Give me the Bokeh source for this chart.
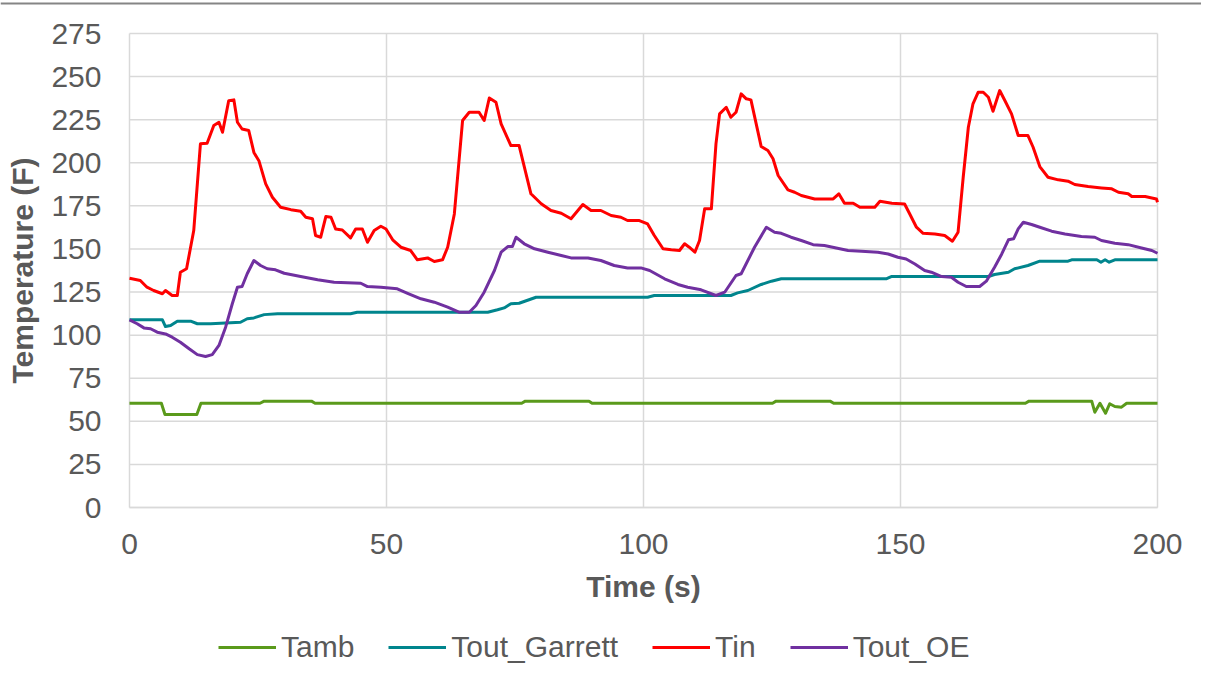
from bokeh.plotting import figure
from bokeh.models import FixedTicker, Legend, LegendItem, Range1d, Span
from bokeh.embed import file_html
from bokeh.resources import INLINE

# ---- data ----
x_ticks = [0, 50, 100, 150, 200]
y_ticks = [0, 25, 50, 75, 100, 125, 150, 175, 200, 225, 250, 275]

tamb_t = [0, 6.2, 6.9, 13.1, 13.9, 25.4, 26.2, 35.4, 36.1, 76.3, 77.0, 89.4, 90.0,
          125.1, 125.8, 136.3, 137.0, 174.3, 175.0, 187.2, 187.8, 188.8, 189.9,
          190.7, 191.7, 193.0, 194.0, 200]
tamb_v = [60.5, 60.5, 54, 54, 60.5, 60.5, 61.7, 61.7, 60.5, 60.5, 61.7, 61.7, 60.5,
          60.5, 61.7, 61.7, 60.5, 60.5, 61.7, 61.7, 55.3, 60.5, 54.7,
          60.2, 58.6, 58.2, 60.5, 60.5]

garrett_t = [0, 6.4, 7.0, 8.0, 9.3, 11.9, 13.2, 15.8, 21.6, 22.9, 24.2, 26.2, 28.8,
             43.0, 44.3, 69.7, 71.6, 72.9, 74.2, 75.8, 79.1, 100.8, 102.1, 117.0,
             118.3, 120.3, 122.9, 124.9, 126.8, 147.2, 148.2, 167.1, 168.3, 171.0,
             172.2, 174.8, 177.1, 182.6, 183.3, 188.2, 189.0, 189.8, 190.6, 191.7, 200]
garrett_v = [108.9, 108.9, 105, 105.6, 108.1, 108.1, 106.6, 106.6, 107.5, 109.5, 110, 111.9, 112.4,
             112.4, 113.3, 113.3, 114.7, 115.8, 118.2, 118.5, 122, 122, 123, 123,
             124.5, 125.9, 129.4, 131.3, 132.7, 132.7, 134, 134, 135.2, 136.5,
             138.5, 140.4, 142.9, 142.9, 143.7, 143.7, 142.3, 143.7, 142.3, 143.7, 143.7]

tin_t = [0, 2.1, 3.4, 4.7, 6.4, 7.0, 8.3, 9.3, 9.9, 11.1,
         12.5, 13.8, 15.1, 16.4, 17.4, 18.1, 19.3, 20.3, 21.0, 21.9,
         23.2, 24.2, 25.2, 26.5, 27.8, 29.4, 31.4, 33.3, 34.3, 35.6,
         36.2, 37.2, 38.2, 39.2, 40.1, 41.4, 43.0, 44.0, 45.3, 46.3,
         47.6, 48.9, 49.9, 51.2, 52.8, 54.7, 56.0, 58.0, 59.3, 60.9,
         61.9, 63.2, 64.8, 66.1, 68.0, 69.0, 70.0, 71.3, 72.3, 74.2,
         75.8, 78.1, 80.1, 82.0, 84.0, 85.9, 88.2, 89.8, 91.7, 93.7,
         95.6, 96.9, 99.2, 100.8, 102.1, 103.8, 105.4, 107.0, 108.0, 108.9,
         110.0, 110.9, 111.9, 113.2, 114.1, 114.8, 116.1, 117.0, 118.0, 119.0,
         120.0, 120.9, 122.9, 124.2, 125.2, 126.2, 128.1, 129.4, 130.7, 133.3,
         136.9, 138.0, 139.1, 140.8, 142.1, 145.0, 146.0, 148.3, 150.8, 151.8,
         153.1, 154.4, 156.7, 158.6, 160.1, 161.2, 162.2, 163.2, 164.1, 165.1,
         166.1, 167.1, 168.0, 169.3, 170.3, 171.6, 172.9, 174.8, 175.8, 177.1,
         178.7, 180.7, 182.6, 183.9, 186.5, 189.1, 191.1, 192.4, 194.3, 195.0,
         197.6, 198.9, 199.8, 200]
tin_v = [133, 131.7, 127.8, 125.9, 124, 125.9, 123, 123, 136.5, 138.5,
         160.7, 211, 211.3, 221.6, 223.5, 217.7, 236, 236.5, 223.5, 219.6,
         218.7, 206, 201, 187.8, 180, 174.2, 172.8, 171.9, 168.4, 167.5,
         157.8, 156.8, 168.8, 168.4, 161.6, 161, 156.4, 161.6, 161.6, 153.9,
         160.7, 163.2, 161.6, 155.3, 151, 149.1, 143.7, 144.8, 142.7, 143.7,
         151, 170.3, 224.5, 229.3, 229.3, 224.5, 237.6, 235.1, 222.6, 210,
         210, 182, 176.2, 172.3, 170.7, 167.5, 175.8, 172.3, 172.3, 169.4,
         168.4, 166.5, 166.5, 164.5, 157.8, 150.1, 149.5, 149.1, 153, 151,
         148.1, 154.9, 173.3, 173.3, 211, 228.4, 232.2, 226.4, 229.3, 240,
         237.1, 236.5, 209.4, 207.1, 202.3, 192.6, 184.3, 182.9, 181, 179,
         179, 182, 176.5, 176.5, 174.2, 174.2, 177.7, 176.5, 176.1, 170.3,
         162.6, 159.1, 158.7, 157.8, 154.5, 159.7, 191.6, 220.6, 234.2, 240.9,
         240.9, 238, 229.9, 241.9, 236.1, 228.4, 215.8, 215.8, 209, 197.8,
         191.6, 190.1, 189.3, 187.4, 186.2, 185.4, 184.9, 182.9, 182, 180.4,
         180.4, 179.6, 179, 177.1]

oe_t = [0, 1.5, 2.8, 4.1, 5.4, 7.0, 8.3, 9.9, 11.6, 13.2,
        14.8, 16.1, 17.4, 18.7, 20.0, 21.0, 21.9, 22.9, 24.2, 25.5,
        26.8, 28.4, 30.1, 33.3, 36.6, 39.8, 45.0, 46.3, 48.9, 52.1,
        54.1, 56.7, 59.3, 61.9, 64.1, 66.1, 67.4, 69.0, 71.0, 72.3,
        73.6, 74.5, 75.2, 76.8, 78.8, 81.4, 84.0, 85.9, 89.2, 91.7,
        94.3, 96.9, 99.5, 101.2, 104.1, 106.7, 108.6, 111.2, 114.1, 115.8,
        118.0, 119.0, 121.6, 123.9, 125.5, 126.8, 128.7, 130.7, 133.0, 135.2,
        137.5, 139.8, 142.4, 145.6, 147.6, 149.5, 151.1, 152.8, 154.7, 156.0,
        158.0, 159.9, 161.2, 162.8, 165.4, 166.7, 168.3, 169.7, 171.0, 172.0,
        172.9, 173.9, 175.5, 177.1, 179.4, 182.0, 185.2, 187.8, 189.1, 191.7,
        194.3, 196.9, 198.9, 200]
oe_v = [108.9, 106.6, 104.2, 103.7, 101.7, 100.7, 98.8, 95.9, 92.1, 88.7,
        87.6, 88.7, 94, 104.6, 118.2, 127.8, 128.2, 135.6, 143.3, 140.4,
        138.5, 137.9, 135.9, 134, 132.1, 130.7, 130.1, 128.2, 127.8, 126.9,
        124.3, 121.1, 119.1, 116.2, 113.3, 113.3, 117.2, 124.9, 137.5, 148.1,
        151.4, 151.4, 156.8, 153, 150.1, 148.1, 146.2, 144.8, 144.8, 143.3,
        140.4, 139, 139, 137.5, 132.7, 129.4, 127.8, 126.3, 123, 124.9,
        134.6, 135.6, 151, 162.6, 159.7, 159.1, 156.8, 154.9, 152.5, 152,
        150.6, 149.1, 148.7, 148.1, 147.1, 145.2, 144.2, 141.3, 137.5, 136.5,
        134, 133.6, 130.7, 128.2, 128.2, 131.3, 139.4, 147.1, 155.3, 155.9,
        161.6, 165.5, 164.2, 162.6, 160.3, 158.7, 157.2, 156.8, 154.9, 153.3,
        152.5, 150.6, 149.1, 147.5]

series_names = ["Tamb", "Tout_Garrett", "Tin", "Tout_OE"]
series_colors = ["#5A9A1B", "#00858D", "#FF0000", "#7030A0"]

FONT = "Liberation Sans"
FS = "30px"
TXT = "#595959"
GRID = "#D9D9D9"

# ---- layout (pixels): the frame covers the whole canvas; the plotting band
# (0..200 s, 0..275 F) sits inside it, axes are fixed at x=0 / y=0 ----
W, H = 1201, 671
BAND_L, BAND_R, BAND_T, BAND_B = 129, 1157, 33, 507
x0, x1 = x_ticks[0], x_ticks[-1]
y0, y1 = y_ticks[0], y_ticks[-1]
sx = (BAND_R - BAND_L) / (x1 - x0)
sy = (BAND_B - BAND_T) / (y1 - y0)
x_range = Range1d(x0 - BAND_L / sx, x1 + (W - BAND_R) / sx)
y_range = Range1d(y0 - (H - BAND_B) / sy, y1 + BAND_T / sy)

p = figure(width=W, height=H, x_range=x_range, y_range=y_range,
           output_backend="svg", toolbar_location=None,
           min_border=0, background_fill_color="white", border_fill_color="white")
p.outline_line_color = None
p.xgrid.visible = False
p.ygrid.visible = False

# chart-area border line at the very top
p.add_layout(Span(location=y1 + (BAND_T - 3) / sy, dimension="width",
                  line_color="#858585", line_width=2))

# grid lines limited to the plotting band
p.segment(x0=[x0] * len(y_ticks), y0=y_ticks, x1=[x1] * len(y_ticks), y1=y_ticks,
          line_color=GRID, line_width=1.5)
p.segment(x0=x_ticks, y0=[y0] * len(x_ticks), x1=x_ticks, y1=[y1] * len(x_ticks),
          line_color=GRID, line_width=1.5)

for ax in (p.xaxis, p.yaxis):
    ax.major_tick_line_color = None
    ax.minor_tick_line_color = None
    ax.major_label_text_font = FONT
    ax.major_label_text_font_size = FS
    ax.major_label_text_color = TXT
    ax.axis_label_text_font = FONT
    ax.axis_label_text_font_size = FS
    ax.axis_label_text_font_style = "bold"
    ax.axis_label_text_color = TXT

p.xaxis.ticker = FixedTicker(ticks=x_ticks)
p.yaxis.ticker = FixedTicker(ticks=y_ticks)
p.xaxis.fixed_location = y0
p.yaxis.fixed_location = x0
p.xaxis.bounds = (x0, x1)
p.yaxis.bounds = (y0, y1)
p.xaxis.axis_line_color = GRID
p.xaxis.axis_line_width = 1.5
p.yaxis.axis_line_color = None
p.xaxis.axis_label = "Time (s)"
p.yaxis.axis_label = "Temperature (F)"
p.xaxis.major_label_standoff = 20
p.xaxis.axis_label_standoff = 13
p.yaxis.major_label_standoff = 22
p.yaxis.axis_label_standoff = 9

ts = [tamb_t, garrett_t, tin_t, oe_t]
vs = [tamb_v, garrett_v, tin_v, oe_v]
renderers = []
for t, v, c in zip(ts, vs, series_colors):
    r = p.line(t, v, line_color=c, line_width=3, line_join="round")
    renderers.append(r)

legend = Legend(items=[LegendItem(label=n, renderers=[r]) for n, r in zip(series_names, renderers)],
                orientation="horizontal", location=(218, 7),
                glyph_width=58, glyph_height=20, label_standoff=5, spacing=34,
                padding=0, margin=0, border_line_color=None, background_fill_alpha=0,
                label_text_font=FONT, label_text_font_size=FS, label_text_color=TXT)
p.add_layout(legend)

open("out.html", "w").write(file_html(p, INLINE))
